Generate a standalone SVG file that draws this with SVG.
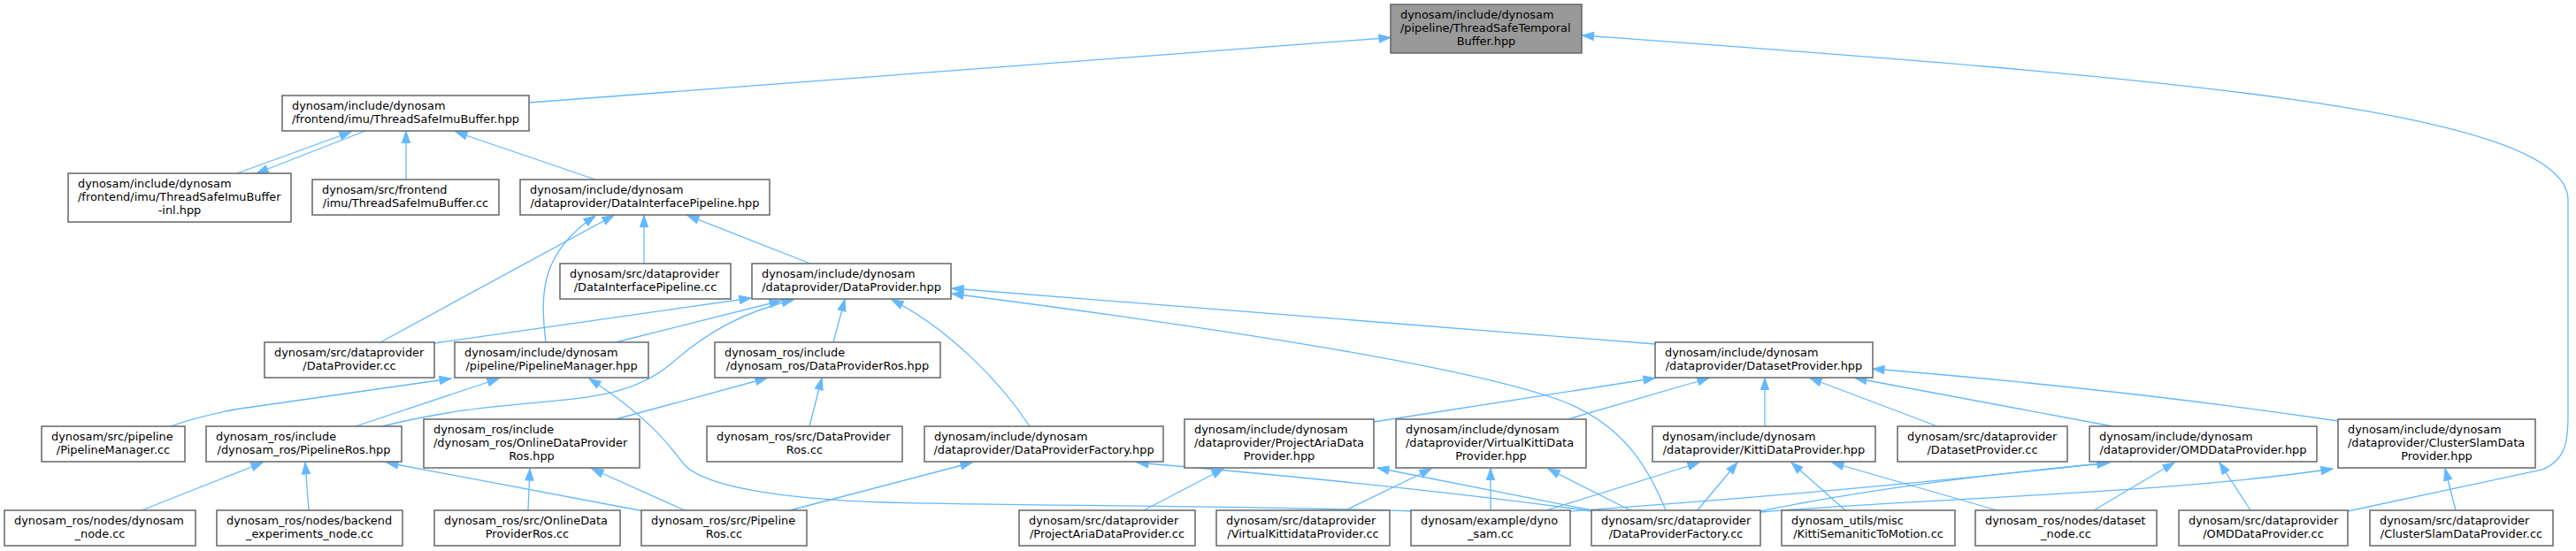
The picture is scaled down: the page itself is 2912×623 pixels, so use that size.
<svg xmlns="http://www.w3.org/2000/svg" width="2912" height="623" viewBox="0 0 2912 623">
<defs>
<style>
.n rect{fill:#fff;stroke:#666;stroke-width:1.5}
.n.hl rect{fill:#999}
text{font-family:"DejaVu Sans",sans-serif;font-size:12.9px;fill:#000}
.m{text-anchor:middle}
.e path{fill:none;stroke:#63b8ff;stroke-width:1.3;marker-end:url(#ah)}
</style>
<marker id="ah" markerUnits="userSpaceOnUse" markerWidth="14" markerHeight="10" refX="13" refY="5" orient="auto" overflow="visible">
<path d="M0,0.4 L13,5 L0,9.6 z" fill="#63b8ff" stroke="#63b8ff" stroke-width="1"/>
</marker>
</defs>
<rect x="0" y="0" width="2912" height="623" fill="#fff"/>
<g id="edges" class="e">
<path d="M598,116 L1572,42.5"/>
<path d="M268,196 L397,149"/>
<path d="M413,148 L290,196"/>
<path d="M459,203 L459,148.5"/>
<path d="M673,203 L515,149"/>
<path d="M728,298 L728,243.5"/>
<path d="M916,298 L777,243.5"/>
<path d="M430,387 L694,243.5"/>
<path d="M617,387 C610,330 612,285 673,244"/>
<path d="M491,388 L849,337"/>
<path d="M696,387 L883,340"/>
<path d="M432,482 C600,440 690,470 760,410 C800,375 840,353 897,339"/>
<path d="M942,387 L955,338.5"/>
<path d="M1164,482 C1130,430 1070,370 1008,339"/>
<path d="M1871,389 L1076,326"/>
<path d="M1883,577 C1860,520 1830,480 1770,455 C1680,420 1450,380 1076,332"/>
<path d="M193,482 Q220,472 265,463 L510,428"/>
<path d="M402,482 L564,428"/>
<path d="M1595,578 C1450,572 1150,572 1000,568 C880,564 800,550 775,527 C760,510 745,480 666,428"/>
<path d="M728,578 L437,523"/>
<path d="M774,577 L669,530"/>
<path d="M893,577 L1099,523"/>
<path d="M696,474 L867,427.5"/>
<path d="M160,577 L297,523"/>
<path d="M349,577 L345,523"/>
<path d="M597,577 L599,530"/>
<path d="M915,482 L929,427.5"/>
<path d="M1800,578 Q1600,550 1285,523"/>
<path d="M1293,577 L1383,530"/>
<path d="M1800,577 L1557,529"/>
<path d="M1521,577 L1618,530"/>
<path d="M1685,577 L1685,529.5"/>
<path d="M1845,578 L1750,530"/>
<path d="M1553,477 L1871,427.5"/>
<path d="M1772,474 L1932,427.5"/>
<path d="M1995,482 L1995,427.5"/>
<path d="M2190,482 L2046,427.5"/>
<path d="M2388,482 L2097,427.5"/>
<path d="M2643,476 Q2400,440 2117,417"/>
<path d="M1748,577 L1921,523"/>
<path d="M1918,578 L1964,523"/>
<path d="M2086,577 L2025,523"/>
<path d="M2261,578 L2071,523"/>
<path d="M1775,578 Q2100,555 2384,523"/>
<path d="M1990,578 Q2150,545 2384,523.5"/>
<path d="M1990,579 C2200,562 2450,558 2637,530"/>
<path d="M2367,577 L2458,523"/>
<path d="M2544,577 L2509,523"/>
<path d="M2776,577 L2764,530"/>
<path d="M2654,578 L2874,531 C2900,520 2903,500 2903,470 L2903,226 C2903,120 2400,85 1788.5,40"/>
</g>
<g id="n_tstb" class="n hl"><rect x="1572" y="5" width="216" height="55"/><text x="1583" y="21.3">dynosam/include/dynosam</text><text x="1583" y="36.3">/pipeline/ThreadSafeTemporal</text><text class="m" x="1680" y="51.3">Buffer.hpp</text></g>
<g id="n_imubuf_hpp" class="n"><rect x="319" y="108" width="279" height="40"/><text x="330" y="124.3">dynosam/include/dynosam</text><text class="m" x="458.5" y="139.3">/frontend/imu/ThreadSafeImuBuffer.hpp</text></g>
<g id="n_imubuf_inl" class="n"><rect x="77" y="196" width="252" height="55"/><text x="88" y="212.3">dynosam/include/dynosam</text><text x="88" y="227.3">/frontend/imu/ThreadSafeImuBuffer</text><text class="m" x="203" y="242.3">-inl.hpp</text></g>
<g id="n_imubuf_cc" class="n"><rect x="353" y="203" width="211" height="40"/><text x="364" y="219.3">dynosam/src/frontend</text><text class="m" x="458.5" y="234.3">/imu/ThreadSafeImuBuffer.cc</text></g>
<g id="n_dip_hpp" class="n"><rect x="588" y="203" width="282" height="40"/><text x="599" y="219.3">dynosam/include/dynosam</text><text class="m" x="729" y="234.3">/dataprovider/DataInterfacePipeline.hpp</text></g>
<g id="n_dip_cc" class="n"><rect x="633" y="298" width="193" height="40"/><text x="644" y="314.3">dynosam/src/dataprovider</text><text class="m" x="729.5" y="329.3">/DataInterfacePipeline.cc</text></g>
<g id="n_dp_hpp" class="n"><rect x="850" y="298" width="225" height="40"/><text x="861" y="314.3">dynosam/include/dynosam</text><text class="m" x="962.5" y="329.3">/dataprovider/DataProvider.hpp</text></g>
<g id="n_dp_cc" class="n"><rect x="299" y="387" width="192" height="40"/><text x="310" y="403.3">dynosam/src/dataprovider</text><text class="m" x="395" y="418.3">/DataProvider.cc</text></g>
<g id="n_pm_hpp" class="n"><rect x="514" y="387" width="219" height="40"/><text x="525" y="403.3">dynosam/include/dynosam</text><text class="m" x="623.5" y="418.3">/pipeline/PipelineManager.hpp</text></g>
<g id="n_dpros_hpp" class="n"><rect x="808" y="387" width="255" height="40"/><text x="819" y="403.3">dynosam_ros/include</text><text class="m" x="935.5" y="418.3">/dynosam_ros/DataProviderRos.hpp</text></g>
<g id="n_ds_hpp" class="n"><rect x="1871" y="387" width="246" height="40"/><text x="1882" y="403.3">dynosam/include/dynosam</text><text class="m" x="1994" y="418.3">/dataprovider/DatasetProvider.hpp</text></g>
<g id="n_pm_cc" class="n"><rect x="47" y="482" width="162" height="40"/><text x="58" y="498.3">dynosam/src/pipeline</text><text class="m" x="128" y="513.3">/PipelineManager.cc</text></g>
<g id="n_pros_hpp" class="n"><rect x="233" y="482" width="221" height="40"/><text x="244" y="498.3">dynosam_ros/include</text><text class="m" x="343.5" y="513.3">/dynosam_ros/PipelineRos.hpp</text></g>
<g id="n_odp_hpp" class="n"><rect x="479" y="474" width="244" height="55"/><text x="490" y="490.3">dynosam_ros/include</text><text x="490" y="505.3">/dynosam_ros/OnlineDataProvider</text><text class="m" x="601" y="520.3">Ros.hpp</text></g>
<g id="n_dpros_cc" class="n"><rect x="799" y="482" width="221" height="40"/><text x="810" y="498.3">dynosam_ros/src/DataProvider</text><text class="m" x="909.5" y="513.3">Ros.cc</text></g>
<g id="n_dpf_hpp" class="n"><rect x="1045" y="482" width="270" height="40"/><text x="1056" y="498.3">dynosam/include/dynosam</text><text class="m" x="1180" y="513.3">/dataprovider/DataProviderFactory.hpp</text></g>
<g id="n_pa_hpp" class="n"><rect x="1339" y="474" width="214" height="55"/><text x="1350" y="490.3">dynosam/include/dynosam</text><text x="1350" y="505.3">/dataprovider/ProjectAriaData</text><text class="m" x="1446" y="520.3">Provider.hpp</text></g>
<g id="n_vk_hpp" class="n"><rect x="1578" y="474" width="215" height="55"/><text x="1589" y="490.3">dynosam/include/dynosam</text><text x="1589" y="505.3">/dataprovider/VirtualKittiData</text><text class="m" x="1685.5" y="520.3">Provider.hpp</text></g>
<g id="n_k_hpp" class="n"><rect x="1868" y="482" width="252" height="40"/><text x="1879" y="498.3">dynosam/include/dynosam</text><text class="m" x="1994" y="513.3">/dataprovider/KittiDataProvider.hpp</text></g>
<g id="n_ds_cc" class="n"><rect x="2145" y="482" width="192" height="40"/><text x="2156" y="498.3">dynosam/src/dataprovider</text><text class="m" x="2241" y="513.3">/DatasetProvider.cc</text></g>
<g id="n_omd_hpp" class="n"><rect x="2362" y="482" width="257" height="40"/><text x="2373" y="498.3">dynosam/include/dynosam</text><text class="m" x="2490.5" y="513.3">/dataprovider/OMDDataProvider.hpp</text></g>
<g id="n_cs_hpp" class="n"><rect x="2643" y="474" width="223" height="55"/><text x="2654" y="490.3">dynosam/include/dynosam</text><text x="2654" y="505.3">/dataprovider/ClusterSlamData</text><text class="m" x="2754.5" y="520.3">Provider.hpp</text></g>
<g id="n_dn_cc" class="n"><rect x="5" y="577" width="216" height="40"/><text x="16" y="593.3">dynosam_ros/nodes/dynosam</text><text class="m" x="113" y="608.3">_node.cc</text></g>
<g id="n_be_cc" class="n"><rect x="245" y="577" width="210" height="40"/><text x="256" y="593.3">dynosam_ros/nodes/backend</text><text class="m" x="350" y="608.3">_experiments_node.cc</text></g>
<g id="n_odp_cc" class="n"><rect x="491" y="577" width="210" height="40"/><text x="502" y="593.3">dynosam_ros/src/OnlineData</text><text class="m" x="596" y="608.3">ProviderRos.cc</text></g>
<g id="n_pros_cc" class="n"><rect x="725" y="577" width="187" height="40"/><text x="736" y="593.3">dynosam_ros/src/Pipeline</text><text class="m" x="818.5" y="608.3">Ros.cc</text></g>
<g id="n_pa_cc" class="n"><rect x="1152" y="577" width="199" height="40"/><text x="1163" y="593.3">dynosam/src/dataprovider</text><text class="m" x="1251.5" y="608.3">/ProjectAriaDataProvider.cc</text></g>
<g id="n_vk_cc" class="n"><rect x="1375" y="577" width="196" height="40"/><text x="1386" y="593.3">dynosam/src/dataprovider</text><text class="m" x="1473" y="608.3">/VirtualKittidataProvider.cc</text></g>
<g id="n_dyno_cc" class="n"><rect x="1595" y="577" width="180" height="40"/><text x="1606" y="593.3">dynosam/example/dyno</text><text class="m" x="1685" y="608.3">_sam.cc</text></g>
<g id="n_dpf_cc" class="n"><rect x="1799" y="577" width="191" height="40"/><text x="1810" y="593.3">dynosam/src/dataprovider</text><text class="m" x="1894.5" y="608.3">/DataProviderFactory.cc</text></g>
<g id="n_ksm_cc" class="n"><rect x="2014" y="577" width="196" height="40"/><text x="2025" y="593.3">dynosam_utils/misc</text><text class="m" x="2112" y="608.3">/KittiSemaniticToMotion.cc</text></g>
<g id="n_dsn_cc" class="n"><rect x="2233" y="577" width="205" height="40"/><text x="2244" y="593.3">dynosam_ros/nodes/dataset</text><text class="m" x="2335.5" y="608.3">_node.cc</text></g>
<g id="n_omd_cc" class="n"><rect x="2463" y="577" width="191" height="40"/><text x="2474" y="593.3">dynosam/src/dataprovider</text><text class="m" x="2558.5" y="608.3">/OMDDataProvider.cc</text></g>
<g id="n_cs_cc" class="n"><rect x="2679" y="577" width="207" height="40"/><text x="2690" y="593.3">dynosam/src/dataprovider</text><text class="m" x="2782.5" y="608.3">/ClusterSlamDataProvider.cc</text></g>
</svg>
